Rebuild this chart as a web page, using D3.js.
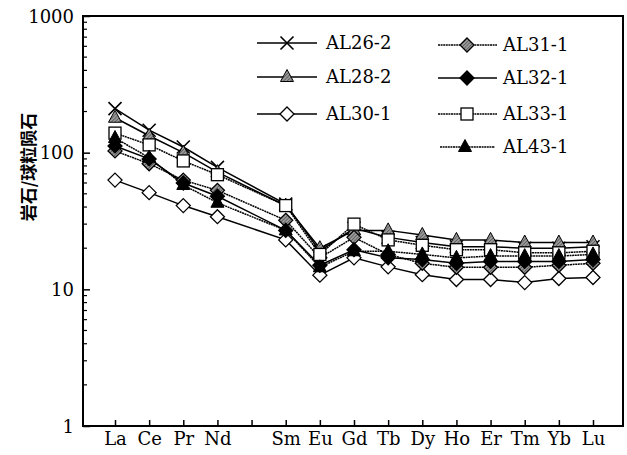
<!DOCTYPE html>
<html>
<head>
<meta charset="utf-8">
<script src="https://cdn.jsdelivr.net/npm/d3@7"></script>
<style>
  html, body { margin: 0; padding: 0; background: #fff; }
  svg { display: block; }
</style>
</head>
<body>
<svg id="chart" width="627" height="455"></svg>
<script>
// Chondrite-normalised REE patterns
const axisElements = ["La","Ce","Pr","Nd","Pm","Sm","Eu","Gd","Tb","Dy","Ho","Er","Tm","Yb","Lu"];
const elements     = ["La","Ce","Pr","Nd","Sm","Eu","Gd","Tb","Dy","Ho","Er","Tm","Yb","Lu"];
const yTickValues  = [1, 10, 100, 1000];
const yTickLabels  = ["1", "10", "100", "1000"];

const sampleNames = ["AL26-2","AL28-2","AL30-1","AL31-1","AL32-1","AL33-1","AL43-1"];
const AL26_2 = [210, 146, 110, 78, 42, 19.0, 28.0, 24.0, 22.0, 20.5, 20.5, 20.0, 20.0, 20.5];
const AL28_2 = [180, 133, 100, 72, 41, 20.0, 27.0, 27.0, 25.0, 23.0, 23.0, 22.0, 22.0, 22.0];
const AL30_1 = [ 63,  51,  41, 34, 23, 12.7, 17.0, 14.6, 12.8, 11.8, 11.8, 11.2, 12.0, 12.2];
const AL31_1 = [103,  83,  63, 53, 32, 17.0, 24.0, 18.0, 15.5, 14.5, 14.5, 14.5, 15.0, 15.5];
const AL32_1 = [112,  90,  60, 48, 27, 15.0, 19.5, 17.0, 16.5, 15.5, 16.0, 16.0, 16.0, 16.5];
const AL33_1 = [139, 114,  87, 69, 41, 18.0, 30.0, 23.0, 21.0, 19.5, 19.5, 18.5, 18.5, 19.0];
const AL43_1 = [128,  92,  58, 43, 27, 14.5, 19.0, 19.0, 18.0, 17.0, 17.5, 17.5, 17.5, 18.0];
const sampleValues = [AL26_2, AL28_2, AL30_1, AL31_1, AL32_1, AL33_1, AL43_1];

// marker & line style per sample
const markerKinds = ["cross","triHatch","diamondOpen","diamondHatch","diamondBlack","square","triBlack"];
const dashed      = [false, false, false, true, false, true, true];

const SERIF = "DejaVu Serif";
const FS = 18;

const svg = d3.select("#chart");
const W = 627, H = 455;
const plotL = 83, plotR = 623, plotT = 16, plotB = 426;

const x = d3.scalePoint().domain(axisElements).range([115, 593]).padding(0);
const y = d3.scaleLog().domain([1, 1000]).range([plotB, plotT]);

// hatch pattern for grey markers
const defs = svg.append("defs");
const pat = defs.append("pattern").attr("id", "hatch").attr("patternUnits", "userSpaceOnUse")
  .attr("width", 2.5).attr("height", 2.5).attr("patternTransform", "rotate(45)");
pat.append("rect").attr("width", 2.5).attr("height", 2.5).attr("fill", "#9a9a9a");
pat.append("line").attr("x1", 0).attr("y1", 0).attr("x2", 0).attr("y2", 2.5)
  .attr("stroke", "#333").attr("stroke-width", 1);

// marker drawing
function drawMarker(g, kind) {
  if (kind === "cross") {
    g.append("path").attr("d", "M-6.5,-6.5L6.5,6.5M-6.5,6.5L6.5,-6.5")
      .attr("stroke", "#000").attr("stroke-width", 1.6).attr("fill", "none");
  } else if (kind === "triHatch" || kind === "triBlack") {
    g.append("path").attr("d", "M0,-7.5L6.5,4.5L-6.5,4.5Z")
      .attr("fill", kind === "triHatch" ? "url(#hatch)" : "#000")
      .attr("stroke", "#000").attr("stroke-width", 1);
  } else if (kind.startsWith("diamond")) {
    const fill = kind === "diamondOpen" ? "#fff" : kind === "diamondHatch" ? "url(#hatch)" : "#000";
    g.append("path").attr("d", "M0,-7L7,0L0,7L-7,0Z")
      .attr("fill", fill).attr("stroke", "#000").attr("stroke-width", 1.3);
  } else if (kind === "square") {
    g.append("rect").attr("x", -6).attr("y", -6).attr("width", 12).attr("height", 12)
      .attr("fill", "#fff").attr("stroke", "#000").attr("stroke-width", 1.3);
  }
}

// axes frame
svg.append("rect").attr("x", plotL).attr("y", plotT)
  .attr("width", plotR - plotL).attr("height", plotB - plotT)
  .attr("fill", "none").attr("stroke", "#000").attr("stroke-width", 2);

// y axis (ticks inward)
const yAxis = d3.axisLeft(y).tickValues(yTickValues).tickSize(-7).tickFormat((d, i) => yTickLabels[i]);
const yG = svg.append("g").attr("transform", `translate(${plotL},0)`).call(yAxis)
  .attr("font-family", SERIF).attr("font-size", FS);
yG.select(".domain").remove();
yG.selectAll(".tick line").attr("stroke", "#000").attr("stroke-width", 1.5);
yG.selectAll(".tick text").attr("x", -9).attr("dy", "0.35em").attr("fill", "#000");

// minor log ticks
const minor = [];
for (let e = 0; e < 3; e++) for (let m = 2; m <= 9; m++) minor.push(m * Math.pow(10, e));
svg.append("g").selectAll("line").data(minor).join("line")
  .attr("x1", plotL).attr("x2", plotL + 4)
  .attr("y1", d => y(d)).attr("y2", d => y(d))
  .attr("stroke", "#000").attr("stroke-width", 1.2);

// x axis (ticks inward)
const xAxis = d3.axisBottom(x).tickSize(-6).tickFormat(d => d === "Pm" ? "" : d);
const xG = svg.append("g").attr("transform", `translate(0,${plotB})`).call(xAxis)
  .attr("font-family", SERIF).attr("font-size", FS);
xG.select(".domain").remove();
xG.selectAll(".tick line").attr("stroke", "#000").attr("stroke-width", 1.5);
xG.selectAll(".tick text").attr("y", 6).attr("dy", "0.71em").attr("fill", "#000");

// y axis title
svg.append("text")
  .attr("transform", `translate(27,167) rotate(-90)`)
  .attr("text-anchor", "middle").attr("dominant-baseline", "central")
  .attr("font-family", "Noto Sans CJK SC").attr("font-size", 17)
  .attr("font-weight", "bold")
  .text("岩石/球粒陨石");

// series
const line = d3.line().x(d => x(d.el)).y(d => y(d.v));
const seriesG = svg.append("g");
sampleNames.forEach((name, i) => {
  const pts = elements.map((el, j) => ({ el, v: sampleValues[i][j] }));
  seriesG.append("path").datum(pts).attr("d", line)
    .attr("fill", "none").attr("stroke", "#000").attr("stroke-width", 1.5)
    .attr("stroke-dasharray", dashed[i] ? "2,0.6" : null);
});
sampleNames.forEach((name, i) => {
  const pts = elements.map((el, j) => ({ el, v: sampleValues[i][j] }));
  seriesG.append("g").selectAll("g").data(pts).join("g")
    .attr("transform", d => `translate(${x(d.el)},${y(d.v)})`)
    .each(function () { drawMarker(d3.select(this), markerKinds[i]); });
});

// legend
const legendPos = [
  { x1: 257, x2: 317, mx: 287, tx: 326, y: 43 },
  { x1: 257, x2: 317, mx: 287, tx: 326, y: 77 },
  { x1: 257, x2: 317, mx: 287, tx: 326, y: 114 },
  { x1: 438, x2: 497, mx: 467, tx: 503, y: 45 },
  { x1: 438, x2: 497, mx: 467, tx: 503, y: 78 },
  { x1: 438, x2: 497, mx: 467, tx: 503, y: 114 },
  { x1: 440, x2: 495, mx: 465, tx: 503, y: 147 }
];
const legend = svg.append("g").attr("font-family", SERIF).attr("font-size", FS);
sampleNames.forEach((name, i) => {
  const p = legendPos[i];
  legend.append("line").attr("x1", p.x1).attr("x2", p.x2).attr("y1", p.y).attr("y2", p.y)
    .attr("stroke", "#000").attr("stroke-width", 1.5)
    .attr("stroke-dasharray", dashed[i] ? "2,0.6" : null);
  const mg = legend.append("g").attr("transform", `translate(${p.mx},${p.y})`);
  drawMarker(mg, markerKinds[i]);
  legend.append("text").attr("x", p.tx).attr("y", p.y).attr("dy", "0.35em")
    .attr("fill", "#000").text(name);
});
</script>
</body>
</html>
